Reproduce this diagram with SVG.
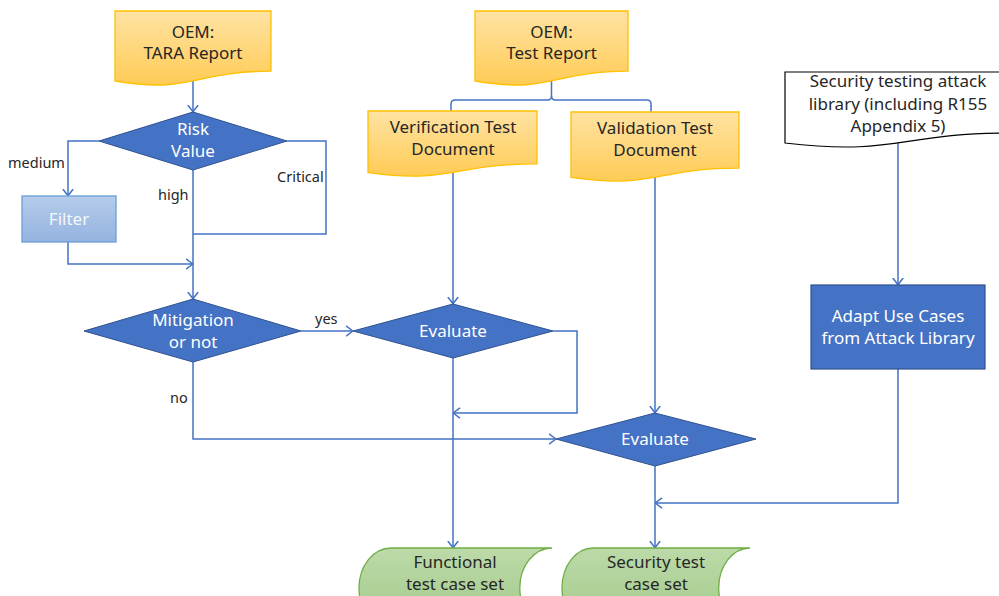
<svg xmlns="http://www.w3.org/2000/svg" width="999" height="596" viewBox="0 0 999 596">
<style>
  .t{font-family:"Noto Sans","Open Sans","DejaVu Sans",sans-serif;font-size:17px;text-anchor:middle}
  .dk{fill:#262626}
  .wh{fill:#ffffff}
  .lbl{font-family:"Noto Sans","Open Sans","DejaVu Sans",sans-serif;font-size:14.5px;fill:#262626}
  .doc{fill:url(#gDoc);stroke:#FFC000;stroke-width:1.3}
  .dia{fill:#4472C4;stroke:#2F528F;stroke-width:1}
  .store{fill:url(#gGreen);stroke:#70AD47;stroke-width:1.3}
  .c{fill:none;stroke:#4472C4;stroke-width:1.5}
  .ca{fill:none;stroke:#4472C4;stroke-width:1.5;marker-end:url(#arr)}
</style>
<defs>
  <linearGradient id="gDoc" x1="0" y1="0" x2="0" y2="1">
    <stop offset="0" stop-color="#FFE3A3"/>
    <stop offset="1" stop-color="#FFCB55"/>
  </linearGradient>
  <linearGradient id="gGreen" x1="0" y1="0" x2="0" y2="1">
    <stop offset="0" stop-color="#BCDAA8"/>
    <stop offset="1" stop-color="#A2CA8A"/>
  </linearGradient>
  <linearGradient id="gFilter" x1="0" y1="0" x2="0" y2="1">
    <stop offset="0" stop-color="#B5CCEB"/>
    <stop offset="1" stop-color="#94B3DF"/>
  </linearGradient>
  <marker id="arr" viewBox="0 0 8 12" refX="7.5" refY="6" markerWidth="8" markerHeight="12" markerUnits="userSpaceOnUse" orient="auto">
    <path d="M0.5,0.8 L7.3,6 L0.5,11.2" fill="none" stroke="#4472C4" stroke-width="1.5"/>
  </marker>
</defs>
<rect width="999" height="596" fill="#ffffff"/>

<g id="connectors">
  <path class="ca" d="M193,81 V112"/>
  <path class="ca" d="M99,141 H68 V196"/>
  <path class="ca" d="M68,242 V264 H193"/>
  <path class="c" d="M287,141 H326 V234 H193"/>
  <path class="ca" d="M193,170 V299"/>
  <path class="ca" d="M301,331 H353"/>
  <path class="ca" d="M193,362 V439 H556"/>
  <path class="c" d="M551.5,81 V96 Q551.5,100 547.5,100 H455 Q451,100 451,104 V111"/>
  <path class="c" d="M551.5,96 Q551.5,100 555.5,100 H647 Q651,100 651,104 V112"/>
  <path class="ca" d="M453,173 V304"/>
  <path class="ca" d="M655,177 V413"/>
  <path class="ca" d="M553,331 H577 V413 H453"/>
  <path class="ca" d="M453,358 V548"/>
  <path class="ca" d="M898,143 V285"/>
  <path class="ca" d="M898,369 V503 H655"/>
  <path class="ca" d="M655,466 V548"/>
  <text class="lbl" x="8" y="168">medium</text>
  <text class="lbl" x="158" y="200">high</text>
  <text class="lbl" x="277" y="182">Critical</text>
  <text class="lbl" x="315" y="324">yes</text>
  <text class="lbl" x="170" y="403">no</text>
</g>

<g id="tara">
  <path class="doc" d="M115,11 H271 V71.2 C193,71.2 193,94 115,81 Z"/>
  <text class="t dk" x="193" y="38">OEM:</text>
  <text class="t dk" x="193" y="59">TARA Report</text>
</g>

<g id="testreport">
  <path class="doc" d="M475,11 H628 V71.2 C551.5,71.2 551.5,94 475,81 Z"/>
  <text class="t dk" x="551.5" y="38">OEM:</text>
  <text class="t dk" x="551.5" y="59">Test Report</text>
</g>

<g id="verification">
  <path class="doc" d="M368,111 H537 V163.9 C452.5,163.9 452.5,184.1 368,172.6 Z"/>
  <text class="t dk" x="453" y="133">Verification Test</text>
  <text class="t dk" x="453" y="155">Document</text>
</g>

<g id="validation">
  <path class="doc" d="M571,112 H739 V168.1 C655,168.1 655,189.5 571,177.4 Z"/>
  <text class="t dk" x="655" y="134">Validation Test</text>
  <text class="t dk" x="655" y="156">Document</text>
</g>

<g id="attacklib">
  <path d="M785,72 H1011 V133 C898,133 898,156.1 785,143 Z" fill="#ffffff" stroke="#000000" stroke-width="1.2"/>
  <text class="t dk" x="898" y="87">Security testing attack</text>
  <text class="t dk" x="898" y="110">library (including R155</text>
  <text class="t dk" x="898" y="132">Appendix 5)</text>
</g>

<g id="risk">
  <polygon class="dia" points="193,112 287,141 193,170 99,141"/>
  <text class="t wh" x="193" y="135">Risk</text>
  <text class="t wh" x="193" y="157">Value</text>
</g>

<g id="filter">
  <rect x="22" y="196" width="94" height="46" fill="url(#gFilter)" stroke="#6A9FD8" stroke-width="1.3"/>
  <text class="t" x="69" y="225" fill="#F4F8FD">Filter</text>
</g>

<g id="mitigation">
  <polygon class="dia" points="193,299 301,331 193,362 84,331"/>
  <text class="t wh" x="193" y="326">Mitigation</text>
  <text class="t wh" x="193" y="348">or not</text>
</g>

<g id="evaluate1">
  <polygon class="dia" points="453,304 553,331 453,358 353,331"/>
  <text class="t wh" x="453" y="337">Evaluate</text>
</g>

<g id="evaluate2">
  <polygon class="dia" points="655,413 756,439 655,466 556,439"/>
  <text class="t wh" x="655" y="445">Evaluate</text>
</g>

<g id="adapt">
  <rect x="811" y="285" width="174" height="84" fill="#4472C4" stroke="#2F528F" stroke-width="1.2"/>
  <text class="t wh" x="898" y="322">Adapt Use Cases</text>
  <text class="t wh" x="898" y="344">from Attack Library</text>
</g>

<g id="functional">
  <path class="store" d="M391.2,548 H552 A32.2,40 0 0,0 552,628 H391.2 A32.2,40 0 0,1 391.2,548 Z"/>
  <text class="t dk" x="455" y="568">Functional</text>
  <text class="t dk" x="455" y="590">test case set</text>
</g>

<g id="security">
  <path class="store" d="M593.3,548 H750 A31.3,40 0 0,0 750,628 H593.3 A31.3,40 0 0,1 593.3,548 Z"/>
  <text class="t dk" x="656" y="568">Security test</text>
  <text class="t dk" x="656" y="590">case set</text>
</g>
</svg>
